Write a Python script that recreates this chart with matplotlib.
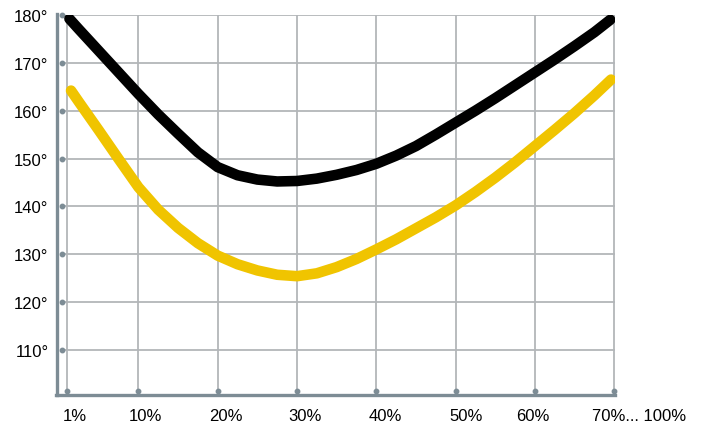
import matplotlib
matplotlib.use("Agg")
import matplotlib.pyplot as plt
from matplotlib.lines import Line2D

# values (x in %, y in degrees)
black_x = [1.3, 2.5, 5, 7.5, 10, 12.5, 15, 17.5, 20, 22.5, 25, 27.5, 30, 32.5,
           35, 37.5, 40, 42.5, 45, 47.5, 50, 52.5, 55, 57.5, 60, 62.5, 65,
           67.5, 69.5]
black_y = [179.2, 177.0, 172.5, 168.0, 163.5, 159.2, 155.2, 151.3, 148.2,
           146.5, 145.6, 145.2, 145.3, 145.8, 146.6, 147.6, 148.9, 150.6,
           152.6, 155.0, 157.5, 160.0, 162.6, 165.3, 168.0, 170.7, 173.5,
           176.4, 179.0]
yellow_x = [1.5, 2.5, 5, 7.5, 10, 12.5, 15, 17.5, 20, 22.5, 25, 27.5, 30, 32.5,
            35, 37.5, 40, 42.5, 45, 47.5, 50, 52.5, 55, 57.5, 60, 62.5, 65,
            67.5, 69.6]
yellow_y = [164.2, 161.8, 155.9, 149.9, 144.0, 139.3, 135.5, 132.3, 129.7,
            127.9, 126.6, 125.7, 125.4, 126.0, 127.3, 129.0, 131.0, 133.1,
            135.4, 137.7, 140.2, 143.0, 146.0, 149.2, 152.6, 156.0, 159.5,
            163.2, 166.5]

x_ticks = [1, 10, 20, 30, 40, 50, 60, 70]
x_labels = ["1%", "10%", "20%", "30%", "40%", "50%", "60%", "70%... 100%"]
y_ticks = [110, 120, 130, 140, 150, 160, 170, 180]
y_labels = ["110°", "120°", "130°", "140°", "150°", "160°", "170°", "180°"]

plt.rcParams["font.family"] = ["Liberation Sans", "DejaVu Sans"]

W, H = 705, 427
fig = plt.figure(figsize=(W / 100, H / 100), dpi=100)
ax_l, ax_r, ax_t, ax_b = 62.3, 615, 16, 392
ax = fig.add_axes([ax_l / W, 1 - ax_b / H, (ax_r - ax_l) / W, (ax_b - ax_t) / H])

grid_c = "#b3b6b9"
axis_c = "#7d8c95"
yellow = "#f0c400"

ax.set_xlim(0.4, 70.1)
ax.set_ylim(101.4, 180)

for xv in x_ticks:
    ax.axvline(xv, color=grid_c, lw=1.3, zorder=1)
for yv in y_ticks:
    ax.axhline(yv, color=grid_c, lw=1.3, zorder=1)

# small dots at the grid ends
ax.plot(x_ticks, [101.4] * len(x_ticks), "o", color=axis_c, ms=3.2,
        clip_on=False, zorder=3)
ax.plot([0.4] * len(y_ticks), y_ticks, "o", color=axis_c, ms=3.2,
        clip_on=False, zorder=3)

ax.plot(black_x, black_y, color="black", lw=7.6, solid_capstyle="round",
        solid_joinstyle="round", zorder=4)
ax.plot(yellow_x, yellow_y, color=yellow, lw=7.6, solid_capstyle="round",
        solid_joinstyle="round", zorder=4)

for s in ax.spines.values():
    s.set_visible(False)

ax.set_yticks(y_ticks)
ax.set_yticklabels(y_labels, fontsize=12)
ax.tick_params(axis="y", length=0, pad=10)
ax.set_xticks([])

# x labels sit a bit off their grid lines in the reference
label_px = [74.5, 145.5, 225.5, 305, 385, 466, 533, 639]
for lab, px in zip(x_labels, label_px):
    fig.text(px / W, 1 - 417 / H, lab, ha="center", va="center", fontsize=12)

# offset axis lines
sx, sy = 56.7, 396
fig.add_artist(Line2D([sx / W, sx / W], [1 - sy / H, 1 - 15 / H],
                      transform=fig.transFigure, color=axis_c, lw=2.4))
fig.add_artist(Line2D([(sx - 1) / W, 615 / W], [1 - sy / H, 1 - sy / H],
                      transform=fig.transFigure, color=axis_c, lw=2.4))

fig.savefig("out.png", dpi=100)
